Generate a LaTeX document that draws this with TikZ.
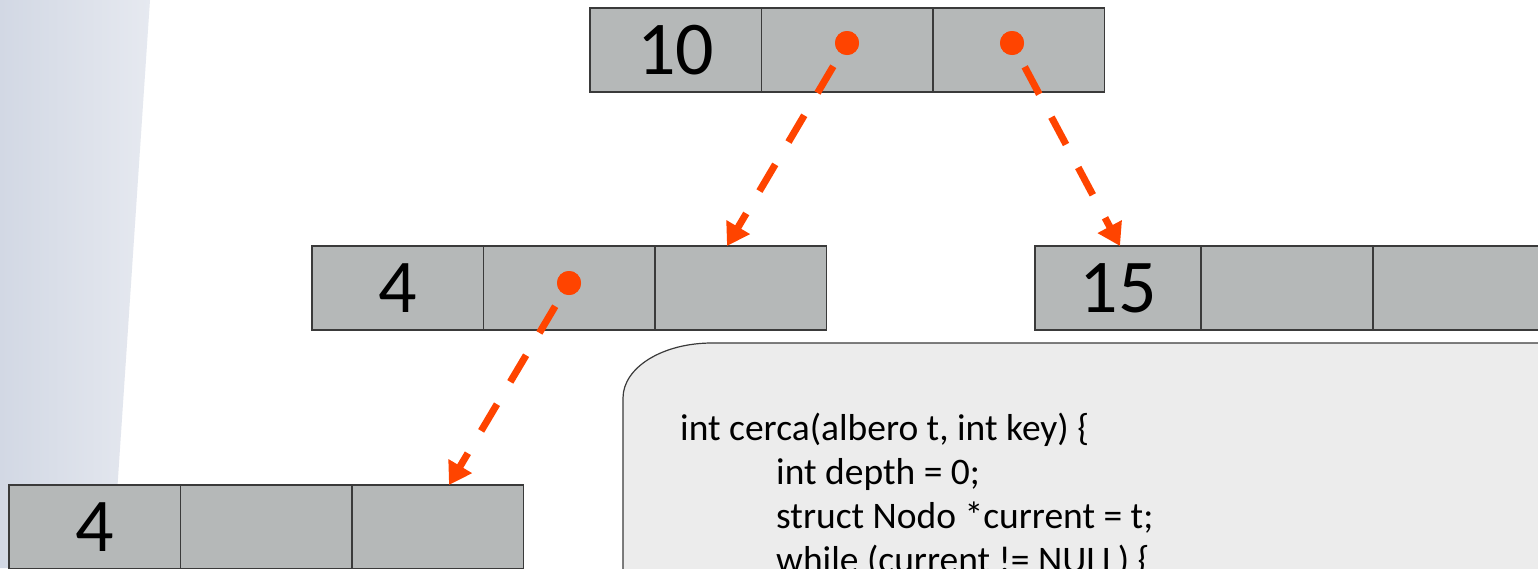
\documentclass[tikz,border=0pt]{standalone}
\usepackage{fontspec}
\setmainfont{Carlito}
\usetikzlibrary{arrows.meta}
\definecolor{cellfill}{RGB}{181,184,184}
\definecolor{edge}{RGB}{58,58,58}
\definecolor{orng}{RGB}{255,68,0}
\definecolor{codefill}{RGB}{236,236,236}
\definecolor{bgleft}{RGB}{210,216,228}
\definecolor{bgright}{RGB}{230,233,240}
\tikzset{
  cell/.style={draw=edge, fill=cellfill, line width=1.2pt, inner sep=0pt,
    minimum width=171.5pt, minimum height=84pt,
    font=\fontsize{76}{90}\selectfont},
  dot/.style={circle, fill=orng, inner sep=0pt, minimum size=24pt},
  ptr/.style={draw=orng, line width=7pt, dash pattern=on 31pt off 26pt,
    dash phase=30pt, -{Triangle[length=22pt,width=26pt]}},
  codeline/.style={anchor=base west, inner sep=0pt,
    font=\fontsize{37.5}{44}\selectfont},
}
\begin{document}
\begin{tikzpicture}[x=1pt,y=-1pt]
\useasboundingbox (0,0) rectangle (1538,568);
\clip (0,0) rectangle (1538,568);
\fill[white] (0,0) rectangle (1538,568);
% left background panel
\shade[left color=bgleft, right color=bgright] (0,0) -- (150,0) -- (112,568) -- (0,568) -- cycle;
% code box
\draw[draw=edge, fill=codefill, line width=1.2pt]
  (623,580) -- (623,398) .. controls (623,367.6) and (662.3,343) .. (712,343)
  -- (1550,343) -- (1550,580) -- cycle;
\node[codeline] (code1) at (680,440) {int cerca(albero t, int key) \{};
\node[codeline] (code2) at (776,484) {int depth = 0;};
\node[codeline] (code3) at (776,528) {struct Nodo *current = t;};
\node[codeline] (code4) at (776,572) {while (current != NULL) \{};
% top node
\node[cell] (a1) at (675.75,50) {10};
\node[cell] (a2) at (847.25,50) {};
\node[cell] (a3) at (1018.75,50) {};
% middle left node
\node[cell] (b1) at (397.75,288) {4};
\node[cell] (b2) at (569.25,288) {};
\node[cell] (b3) at (740.75,288) {};
% middle right node
\node[cell, minimum width=166pt] (c1) at (1118,288) {15};
\node[cell, minimum width=172pt] (c2) at (1287,288) {};
\node[cell, minimum width=172pt] (c3) at (1459,288) {};
% bottom left node
\node[cell] (e1) at (94.75,527) {4};
\node[cell] (e2) at (266.25,527) {};
\node[cell] (e3) at (437.75,527) {};
% pointer dots
\node[dot] (p1) at (847,43) {};
\node[dot] (p2) at (1012,43) {};
\node[dot] (p3) at (569,283) {};
% arrow targets
\coordinate (t1) at (727,246);
\coordinate (t2) at (1120,246);
\coordinate (t3) at (449,485);
\draw[ptr] (p1.center) -- (t1);
\draw[ptr] (p2.center) -- (t2);
\draw[ptr] (p3.center) -- (t3);
\node[dot] at (p1) {};
\node[dot] at (p2) {};
\node[dot] at (p3) {};
\end{tikzpicture}
\end{document}
